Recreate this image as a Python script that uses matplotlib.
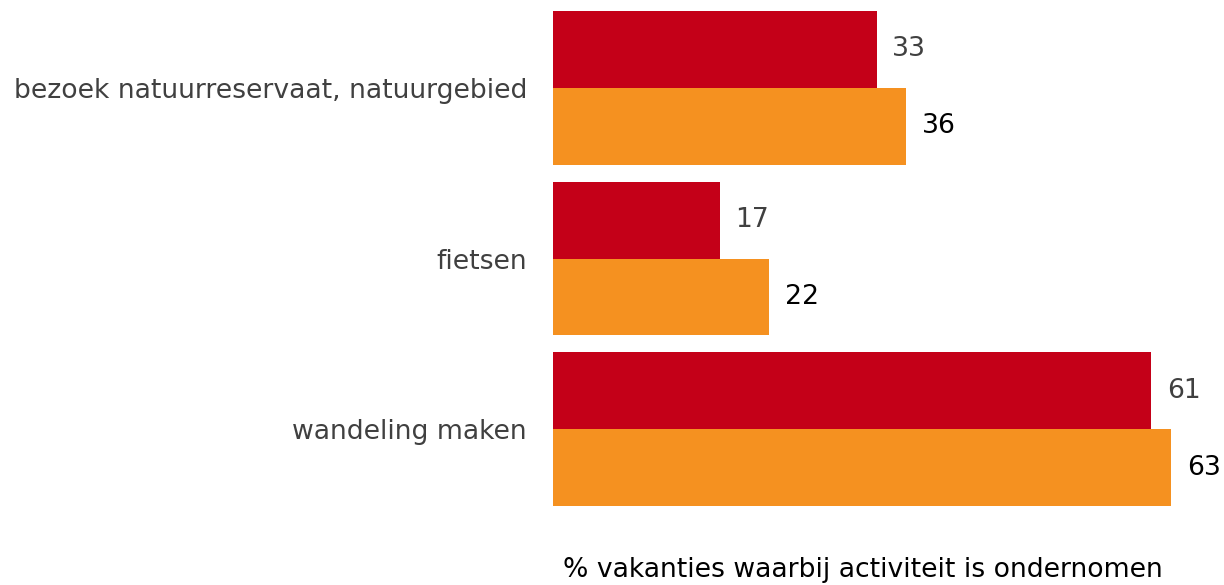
import matplotlib.pyplot as plt
import numpy as np

plt.rcParams['font.family'] = ['DejaVu Sans']

# data
categories = ['bezoek natuurreservaat, natuurgebied', 'fietsen', 'wandeling maken']
serie_rood = [33, 17, 61]
serie_oranje = [36, 22, 63]

rood = '#C40018'
oranje = '#F59120'

fig = plt.figure(figsize=(12.24, 5.85), dpi=100)
ax = fig.add_axes([553/1224, 1 - 506/585, 1 - 553/1224, 495/585])

y = np.arange(len(categories))
h = 0.4516

ax.barh(y - h/2, serie_rood, height=h, color=rood)
ax.barh(y + h/2, serie_oranje, height=h, color=oranje)

fs = 19.2
for yi, v in zip(y, serie_rood):
    ax.text(v + 1.6, yi - h/2, str(v), va='center', ha='left', fontsize=fs, color='#404040')
for yi, v in zip(y, serie_oranje):
    ax.text(v + 1.6, yi + h/2, str(v), va='center', ha='left', fontsize=fs, color='black')

ax.set_xlim(0, (1224 - 553) / 9.81)
ax.set_ylim(len(categories) - 1 + h, -h)
ax.set_yticks(y)
ax.set_yticklabels(categories, fontsize=fs, color='#404040')
ax.tick_params(axis='y', length=0, pad=18.7)
ax.set_xticks([])
for s in ax.spines.values():
    s.set_visible(False)

fig.text(863/1224, 1 - 570/585, '% vakanties waarbij activiteit is ondernomen',
         ha='center', va='center', fontsize=fs, color='black')

fig.savefig('out.png', dpi=100)
